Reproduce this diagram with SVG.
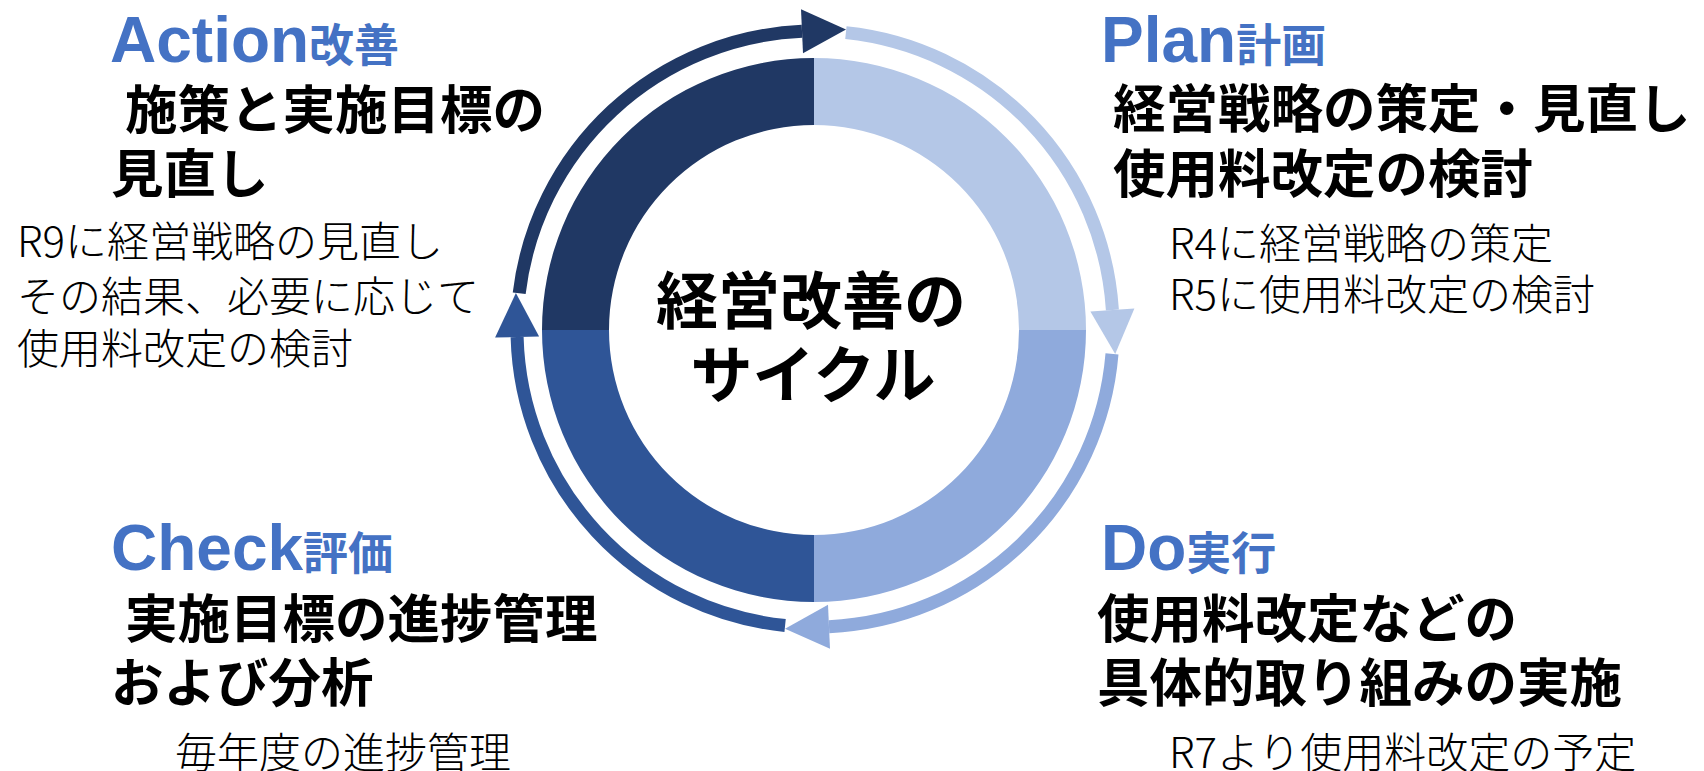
<svg xmlns="http://www.w3.org/2000/svg" width="1704" height="771" viewBox="0 0 1704 771">
<style>
.en{font-family:"Liberation Sans",Arial,sans-serif;font-weight:bold;font-size:64px;fill:#4472C4}
.ej{font-family:"Noto Sans CJK JP",sans-serif;font-weight:bold;font-size:45px;fill:#4472C4}
.hd{font-family:"Noto Sans CJK JP",sans-serif;font-weight:bold;font-size:52.5px;fill:#000}
.sb{font-family:"Noto Sans CJK JP",sans-serif;font-weight:300;font-size:42px;fill:#000}
.ct{font-family:"Noto Sans CJK JP",sans-serif;font-weight:bold;font-size:62px;fill:#000;text-anchor:middle}
.arc{fill:none;stroke-width:13}
</style>
<rect width="1704" height="771" fill="#fff"/>
<g id="ring">
<path d="M 542 330 A 272 272 0 0 1 814 58 L 814 125 A 205 205 0 0 0 609 330 Z" fill="#203864"/>
<path d="M 814 58 A 272 272 0 0 1 1086 330 L 1019 330 A 205 205 0 0 0 814 125 Z" fill="#B4C7E7"/>
<path d="M 1086 330 A 272 272 0 0 1 814 602 L 814 535 A 205 205 0 0 0 1019 330 Z" fill="#8FAADC"/>
<path d="M 814 602 A 272 272 0 0 1 542 330 L 609 330 A 205 205 0 0 0 814 535 Z" fill="#2F5597"/>
</g>
<g id="connectors">
<path class="arc" stroke="#203864" d="M 519.2 293.2 A 298 298 0 0 1 802 31.3"/>
<polygon fill="#203864" points="801,9.3 803,53.3 846,29.4"/>
<path class="arc" stroke="#B4C7E7" d="M 845.9 32.6 A 298 298 0 0 1 1112.4 310"/>
<polygon fill="#B4C7E7" points="1134.4,308.6 1090.4,311.4 1115.2,353.9"/>
<path class="arc" stroke="#8FAADC" d="M 1112 353.9 A 298 298 0 0 1 829 626.7"/>
<polygon fill="#8FAADC" points="830,648.7 828,604.7 785,628.8"/>
<path class="arc" stroke="#2F5597" d="M 785.1 625.5 A 298 298 0 0 1 517.1 337"/>
<polygon fill="#2F5597" points="495.1,337.6 539.1,336.4 515.9,293"/>
</g>
<g id="center">
<text class="ct" x="811" y="324">経営改善の</text>
<text class="ct" x="813" y="398">サイクル</text>
</g>
<g id="action">
<text x="110" y="62"><tspan class="en">Action</tspan><tspan class="ej">改善</tspan></text>
<text class="hd" x="125" y="129">施策と実施目標の</text>
<text class="hd" x="111" y="193">見直し</text>
<text class="sb" x="17" y="257">R9に経営戦略の見直し</text>
<text class="sb" x="17" y="312">その結果、必要に応じて</text>
<text class="sb" x="17" y="364">使用料改定の検討</text>
</g>
<g id="plan">
<text x="1101" y="62"><tspan class="en">Plan</tspan><tspan class="ej">計画</tspan></text>
<text class="hd" x="1113" y="128">経営戦略の策定・見直し</text>
<text class="hd" x="1113" y="193">使用料改定の検討</text>
<text class="sb" x="1169" y="259">R4に経営戦略の策定</text>
<text class="sb" x="1169" y="310">R5に使用料改定の検討</text>
</g>
<g id="check">
<text x="111" y="570"><tspan class="en">Check</tspan><tspan class="ej">評価</tspan></text>
<text class="hd" x="125" y="638">実施目標の進捗管理</text>
<text class="hd" x="111" y="702">および分析</text>
<text class="sb" x="175" y="768">毎年度の進捗管理</text>
</g>
<g id="do">
<text x="1101" y="570"><tspan class="en">Do</tspan><tspan class="ej">実行</tspan></text>
<text class="hd" x="1097" y="638">使用料改定などの</text>
<text class="hd" x="1097" y="702">具体的取り組みの実施</text>
<text class="sb" x="1169" y="768">R7より使用料改定の予定</text>
</g>
</svg>
